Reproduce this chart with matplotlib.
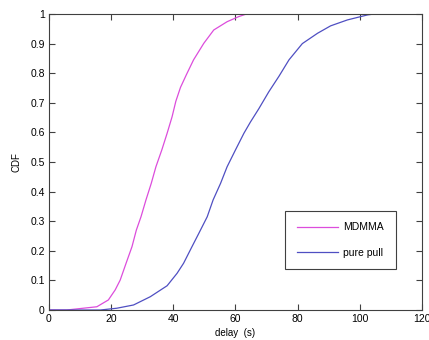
import matplotlib
matplotlib.use("Agg")
import matplotlib.pyplot as plt

# values
mdmma_delay = [0, 5.7, 11, 15.4, 19.1, 21.3, 22.9, 24.8, 26.7, 28.1, 29.6, 31.2, 32.9,
               34.4, 36.3, 38, 39.6, 40.8, 42.3, 44.2, 46.5, 49.8, 53, 57.3, 61, 63.5, 120]
mdmma_cdf = [0, 0, 0.006, 0.011, 0.034, 0.068, 0.101, 0.158, 0.214, 0.27, 0.315, 0.372,
             0.428, 0.484, 0.541, 0.597, 0.653, 0.705, 0.752, 0.795, 0.845, 0.901, 0.946,
             0.974, 0.991, 1.0, 1.0]

pull_delay = [0, 16.5, 21.8, 27.2, 32.6, 38, 41.2, 43.3, 46, 48.2, 50.9, 52.8, 55.2,
              57.3, 60, 62.7, 64.8, 67.5, 70.7, 74, 77.2, 81.5, 86.4, 90.6, 96, 102.5,
              104.6, 120]
pull_cdf = [0, 0, 0.006, 0.017, 0.045, 0.082, 0.124, 0.158, 0.214, 0.259, 0.315, 0.372,
            0.428, 0.484, 0.541, 0.597, 0.635, 0.68, 0.737, 0.79, 0.845, 0.9, 0.935, 0.96,
            0.98, 0.997, 1.0, 1.0]

x_ticks = [0, 20, 40, 60, 80, 100, 120]
y_ticks = [0, 0.1, 0.2, 0.3, 0.4, 0.5, 0.6, 0.7, 0.8, 0.9, 1]
y_tick_labels = ["0", "0.1", "0.2", "0.3", "0.4", "0.5", "0.6", "0.7", "0.8", "0.9", "1"]

plt.rcParams["font.family"] = ["Liberation Sans", "DejaVu Sans"]
plt.rcParams["font.size"] = 7.5

fig = plt.figure(figsize=(4.29, 3.40), dpi=100)
ax = fig.add_axes([0.1142, 0.0882, 0.8695, 0.8706])

ax.plot(mdmma_delay, mdmma_cdf, color="#dc4ddc", linewidth=0.9, label="MDMMA")
ax.plot(pull_delay, pull_cdf, color="#4f4fc2", linewidth=0.9, label="pure pull")

ax.set_xlim(0, 120)
ax.set_ylim(0, 1)
ax.set_xticks(x_ticks)
ax.set_yticks(y_ticks)
ax.set_yticklabels(y_tick_labels)
ax.tick_params(direction="in", top=True, right=True, length=4, width=0.8,
               color="#404040", labelsize=7.5, pad=3)
for spine in ax.spines.values():
    spine.set_color("#404040")
    spine.set_linewidth(0.8)

ax.set_xlabel("delay  (s)", fontsize=7, labelpad=3)
ax.set_ylabel("CDF", fontsize=7, labelpad=6)

leg = ax.legend(loc="upper left", bbox_to_anchor=(0.633, 0.3355), fancybox=False,
                edgecolor="#404040", framealpha=1, borderpad=1.1, labelspacing=1.5,
                handlelength=4.0, handletextpad=0.5, borderaxespad=0, fontsize=7.5)
leg.get_frame().set_linewidth(0.8)

fig.savefig("out.png", dpi=100)
